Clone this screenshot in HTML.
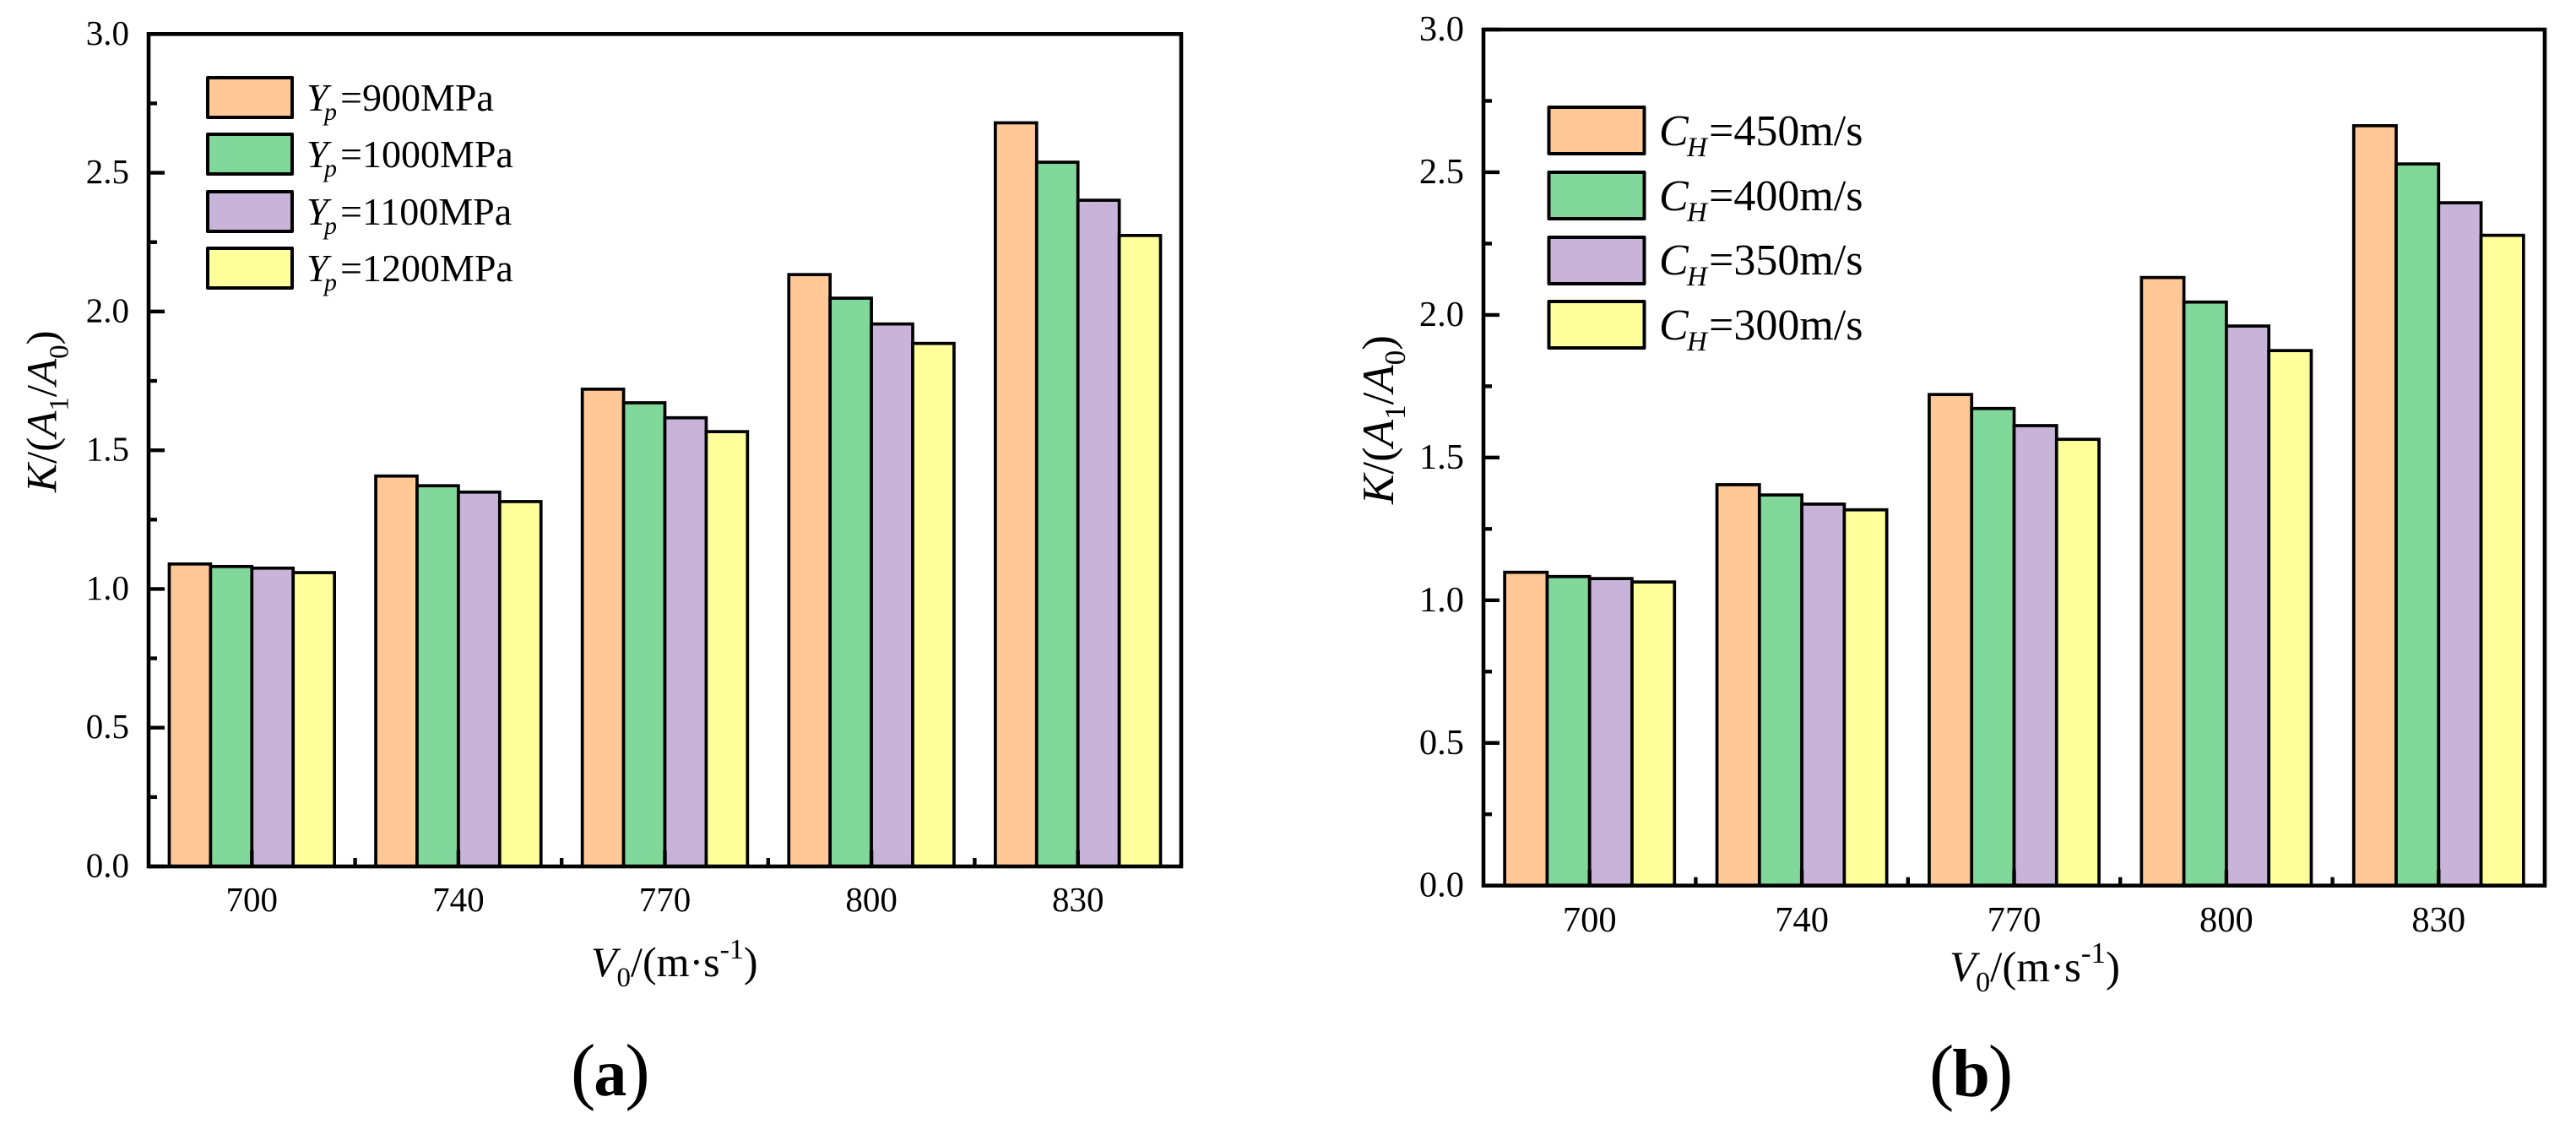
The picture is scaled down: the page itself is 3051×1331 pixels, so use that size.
<!DOCTYPE html>
<html lang="en">
<head>
<meta charset="utf-8">
<title>K/(A1/A0) versus V0 bar charts</title>
<style>
  html, body { margin: 0; padding: 0; background: #fff; }
  svg { display: block; }
  text { font-family: "Liberation Serif", "Times New Roman", serif; fill: #000; }
  .i { font-style: italic; }
  .swatch { stroke: #000; stroke-width: 4; stroke-linejoin: round; }
</style>
</head>
<body>
<svg id="figure" xmlns="http://www.w3.org/2000/svg" width="3051" height="1331" viewBox="0 0 3051 1331">
  <rect x="0" y="0" width="3051" height="1331" fill="#ffffff"/>

  <g id="chart-a"></g>
  <g id="chart-b"></g>

  <!-- Chart (a) text and legend -->
  <text transform="translate(66.7,583) rotate(-90)" font-size="51"><tspan class="i">K</tspan>/(<tspan class="i">A</tspan><tspan font-size="33" dy="14">1</tspan><tspan dy="-14">/</tspan><tspan class="i">A</tspan><tspan font-size="33" dy="14">0</tspan><tspan dy="-14">)</tspan></text>
  <text x="700" y="1156" font-size="50"><tspan class="i">V</tspan><tspan font-size="33" dy="12">0</tspan><tspan dy="-12">/(m·s</tspan><tspan font-size="34" dy="-21">-1</tspan><tspan dy="21">)</tspan></text>
  <text x="676" y="1297" font-size="88">(<tspan font-weight="bold" font-size="78" dx="-2">a</tspan><tspan dx="-2">)</tspan></text>

  <g>
    <rect class="swatch" x="246" y="92" width="100" height="47" fill="#FFC896"/>
    <rect class="swatch" x="246" y="159" width="100" height="47" fill="#80D89B"/>
    <rect class="swatch" x="246" y="227" width="100" height="47" fill="#C8B4D8"/>
    <rect class="swatch" x="246" y="294" width="100" height="47" fill="#FFFF9C"/>
    <text y="131" font-size="46"><tspan class="i" x="363">Y</tspan><tspan class="i" x="384" dy="11" font-size="30">p</tspan><tspan x="403" dy="-11">=900MPa</tspan></text>
    <text y="198" font-size="46"><tspan class="i" x="363">Y</tspan><tspan class="i" x="384" dy="11" font-size="30">p</tspan><tspan x="403" dy="-11">=1000MPa</tspan></text>
    <text y="266" font-size="46"><tspan class="i" x="363">Y</tspan><tspan class="i" x="384" dy="11" font-size="30">p</tspan><tspan x="403" dy="-11">=1100MPa</tspan></text>
    <text y="333" font-size="46"><tspan class="i" x="363">Y</tspan><tspan class="i" x="384" dy="11" font-size="30">p</tspan><tspan x="403" dy="-11">=1200MPa</tspan></text>
  </g>

  <!-- Chart (b) text and legend -->
  <text transform="translate(1650,597) rotate(-90)" font-size="53"><tspan class="i">K</tspan>/(<tspan class="i">A</tspan><tspan font-size="35" dy="14">1</tspan><tspan dy="-14">/</tspan><tspan class="i">A</tspan><tspan font-size="35" dy="14">0</tspan><tspan dy="-14">)</tspan></text>
  <text x="2309" y="1162" font-size="51"><tspan class="i">V</tspan><tspan font-size="34" dy="12">0</tspan><tspan dy="-12">/(m·s</tspan><tspan font-size="35" dy="-22">-1</tspan><tspan dy="22">)</tspan></text>
  <text x="2285" y="1298" font-size="88">(<tspan font-weight="bold" font-size="80" dx="-2">b</tspan><tspan dx="-2">)</tspan></text>

  <g>
    <rect class="swatch" x="1834.5" y="127" width="113" height="55" fill="#FFC896"/>
    <rect class="swatch" x="1834.5" y="204" width="113" height="55" fill="#80D89B"/>
    <rect class="swatch" x="1834.5" y="281" width="113" height="55" fill="#C8B4D8"/>
    <rect class="swatch" x="1834.5" y="357" width="113" height="55" fill="#FFFF9C"/>
    <text y="172" font-size="52"><tspan class="i" x="1965">C</tspan><tspan class="i" x="1998" dy="13" font-size="33">H</tspan><tspan x="2024" dy="-13">=450m/s</tspan></text>
    <text y="249" font-size="52"><tspan class="i" x="1965">C</tspan><tspan class="i" x="1998" dy="13" font-size="33">H</tspan><tspan x="2024" dy="-13">=400m/s</tspan></text>
    <text y="325" font-size="52"><tspan class="i" x="1965">C</tspan><tspan class="i" x="1998" dy="13" font-size="33">H</tspan><tspan x="2024" dy="-13">=350m/s</tspan></text>
    <text y="402" font-size="52"><tspan class="i" x="1965">C</tspan><tspan class="i" x="1998" dy="13" font-size="33">H</tspan><tspan x="2024" dy="-13">=300m/s</tspan></text>
  </g>
</svg>

<script>
// Shared axis data
const categories = ['700', '740', '770', '800', '830'];
const yTickLabels = ['0.0', '0.5', '1.0', '1.5', '2.0', '2.5', '3.0'];
const yTickValues = [0, 0.5, 1, 1.5, 2, 2.5, 3];
const yMinorTickValues = [0.25, 0.75, 1.25, 1.75, 2.25, 2.75];

// Chart (a): series by yield strength
const seriesYp900 = [1.090, 1.407, 1.720, 2.133, 2.680];
const seriesYp1000 = [1.081, 1.372, 1.671, 2.048, 2.538];
const seriesYp1100 = [1.075, 1.349, 1.617, 1.955, 2.401];
const seriesYp1200 = [1.059, 1.315, 1.567, 1.885, 2.274];

// Chart (b): series by wave speed
const seriesCh450 = [1.098, 1.405, 1.721, 2.131, 2.663];
const seriesCh400 = [1.083, 1.369, 1.672, 2.045, 2.529];
const seriesCh350 = [1.076, 1.337, 1.612, 1.961, 2.393];
const seriesCh300 = [1.064, 1.317, 1.564, 1.875, 2.279];

const yMax = 3;
const barColors = ['#FFC896', '#80D89B', '#C8B4D8', '#FFFF9C'];
const SVG_NS = 'http://www.w3.org/2000/svg';

function make(parent, tag, attrs) {
  const el = document.createElementNS(SVG_NS, tag);
  for (const key in attrs) {
    el.setAttribute(key, attrs[key]);
  }
  parent.appendChild(el);
  return el;
}

function drawChart(group, seriesList, seriesNames, box, labelStyle) {
  const plotW = box.right - box.left;
  const plotH = box.bottom - box.top;
  const bandW = plotW / categories.length;
  const barW = bandW * 0.8 / seriesList.length;

  const xScale = function (index) {
    return box.left + bandW * (index + 0.5);
  };
  const yScale = function (value) {
    return box.bottom - (value / yMax) * plotH;
  };

  // Bars
  seriesList.forEach(function (values, s) {
    values.forEach(function (value, c) {
      const x0 = xScale(c) - bandW * 0.4 + barW * s;
      const bar = make(group, 'rect', {
        x: x0,
        y: yScale(value),
        width: barW,
        height: box.bottom - yScale(value),
        fill: barColors[s],
        stroke: '#000',
        'stroke-width': box.barStroke
      });
      
      
    });
  });

  // Y ticks and labels
  yTickValues.forEach(function (value, i) {
    const tick = make(group, 'line', {
      x1: box.left, x2: box.left + 19, y1: yScale(value), y2: yScale(value),
      stroke: '#000', 'stroke-width': 4.4
    });
    
    
    const label = make(group, 'text', {
      x: labelStyle.yLabelX, y: yScale(value) + labelStyle.yLabelDy,
      'text-anchor': 'end', 'font-size': labelStyle.size
    });
    label.textContent = yTickLabels[i];
    
    
  });
  yMinorTickValues.forEach(function (value) {
    const tick = make(group, 'line', {
      x1: box.left, x2: box.left + 10, y1: yScale(value), y2: yScale(value),
      stroke: '#000', 'stroke-width': 4.4
    });
    
    
  });

  // X ticks and labels
  categories.forEach(function (cat, c) {
    const tick = make(group, 'line', {
      x1: xScale(c), x2: xScale(c), y1: box.bottom, y2: box.bottom - 19,
      stroke: '#000', 'stroke-width': 4.4
    });
    
    
    const label = make(group, 'text', {
      x: xScale(c), y: labelStyle.xLabelY,
      'text-anchor': 'middle', 'font-size': labelStyle.size
    });
    label.textContent = cat;
    
    
    if (c < categories.length - 1) {
      const minor = make(group, 'line', {
        x1: xScale(c + 0.5), x2: xScale(c + 0.5), y1: box.bottom, y2: box.bottom - 10,
        stroke: '#000', 'stroke-width': 4.4
      });
      
      
    }
  });

  // Plot frame
  const frame = make(group, 'rect', {
    x: box.left, y: box.top, width: plotW, height: plotH,
    fill: 'none', stroke: '#000', 'stroke-width': 4.6
  });
  
  
}

drawChart(
  document.getElementById('chart-a'),
  [seriesYp900, seriesYp1000, seriesYp1100, seriesYp1200],
  ['yp900', 'yp1000', 'yp1100', 'yp1200'],
  { left: 176, right: 1399, top: 40.3, bottom: 1026, barStroke: 3.7 },
  { size: 41, yLabelX: 153, yLabelDy: 12.5, xLabelY: 1079 }
);

drawChart(
  document.getElementById('chart-b'),
  [seriesCh450, seriesCh400, seriesCh350, seriesCh300],
  ['ch450', 'ch400', 'ch350', 'ch300'],
  { left: 1757, right: 3014, top: 35, bottom: 1048.7, barStroke: 3.7 },
  { size: 42.5, yLabelX: 1734, yLabelDy: 13, xLabelY: 1103 }
);
</script>
</body>
</html>
